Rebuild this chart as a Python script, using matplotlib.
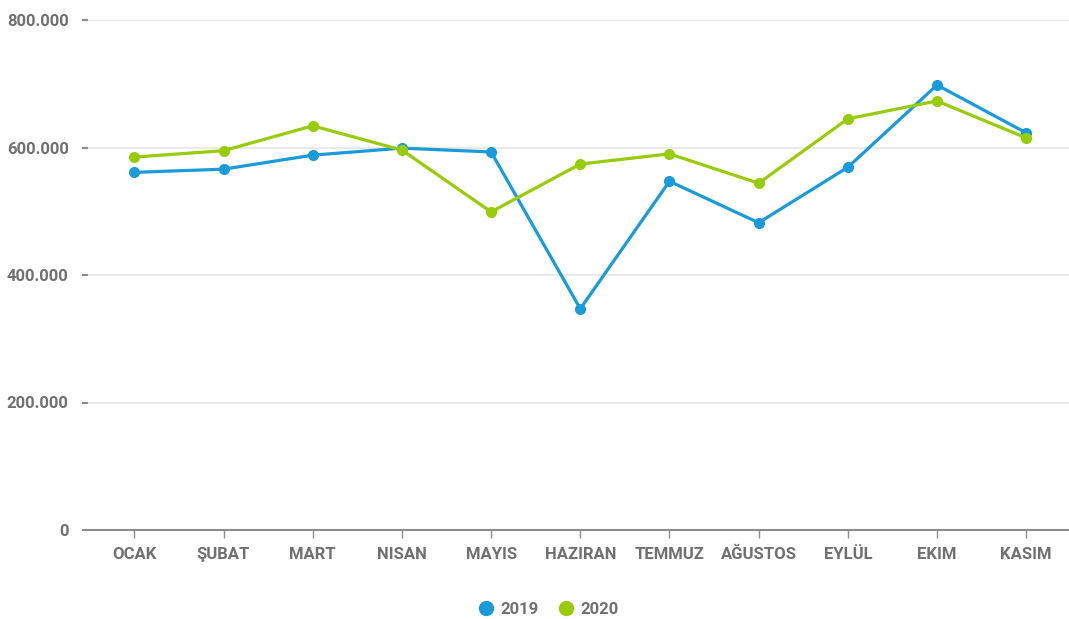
import matplotlib
matplotlib.use("Agg")
import matplotlib.pyplot as plt
from matplotlib.ticker import FuncFormatter
from matplotlib import font_manager

months = ["OCAK", "ŞUBAT", "MART", "NISAN", "MAYIS", "HAZIRAN",
          "TEMMUZ", "AĞUSTOS", "EYLÜL", "EKIM", "KASIM"]
values_2019 = [561000, 566000, 588000, 599000, 593000, 347000,
               547000, 482000, 569000, 698000, 623000]
values_2020 = [585000, 595000, 634000, 596000, 499000, 574000,
               590000, 544000, 645000, 673000, 615000]

blue = "#1b9ad8"
green = "#98cc0a"
text_gray = "#707070"

# pick a narrow bold family if one is around
names = {f.name for f in font_manager.fontManager.ttflist}
family = "Liberation Sans Narrow" if "Liberation Sans Narrow" in names else "Roboto"
plt.rcParams["font.family"] = [family, "DejaVu Sans"]

fig = plt.figure(figsize=(10.69, 6.19), dpi=100)
ax = fig.add_axes([88 / 1069, 89 / 619, 1 - 88 / 1069, 510 / 619])

x = list(range(len(months)))
ax.plot(x, values_2019, color=blue, lw=2.3, marker="o", ms=7, label="2019", zorder=3)
ax.plot(x, values_2020, color=green, lw=2.3, marker="o", ms=7, label="2020", zorder=4)

ax.set_xlim(-0.52, len(months) - 0.52)
ax.set_ylim(0, 800000)
ax.set_yticks([0, 200000, 400000, 600000, 800000])
ax.yaxis.set_major_formatter(FuncFormatter(
    lambda v, p: "0" if v == 0 else f"{int(v):,}".replace(",", ".")))
ax.set_xticks(x)
ax.set_xticklabels(months)

ax.grid(axis="y", color="#e6e6e6", lw=1.2)
ax.set_axisbelow(True)
for s in ["top", "right", "left"]:
    ax.spines[s].set_visible(False)
ax.spines["bottom"].set_color("#8c8c8c")
ax.spines["bottom"].set_linewidth(1.5)

ax.tick_params(axis="y", length=4, width=1.5, color="#8c8c8c", pad=10,
               labelsize=12, labelcolor=text_gray)
ax.tick_params(axis="x", length=6, width=1, color="#8c8c8c", pad=6,
               labelsize=12, labelcolor=text_gray)
for lbl in ax.get_xticklabels() + ax.get_yticklabels():
    lbl.set_fontweight("bold")

leg = ax.legend(loc="upper center", bbox_to_anchor=(0.47, -0.112), ncol=2,
                frameon=False, handlelength=0.8, handletextpad=0.5,
                columnspacing=1.2, prop={"weight": "bold", "size": 12})
for h in leg.legend_handles:
    h.set_linestyle("none")
    h.set_markersize(10)
for t in leg.get_texts():
    t.set_color(text_gray)

fig.savefig("out.png", dpi=100)
